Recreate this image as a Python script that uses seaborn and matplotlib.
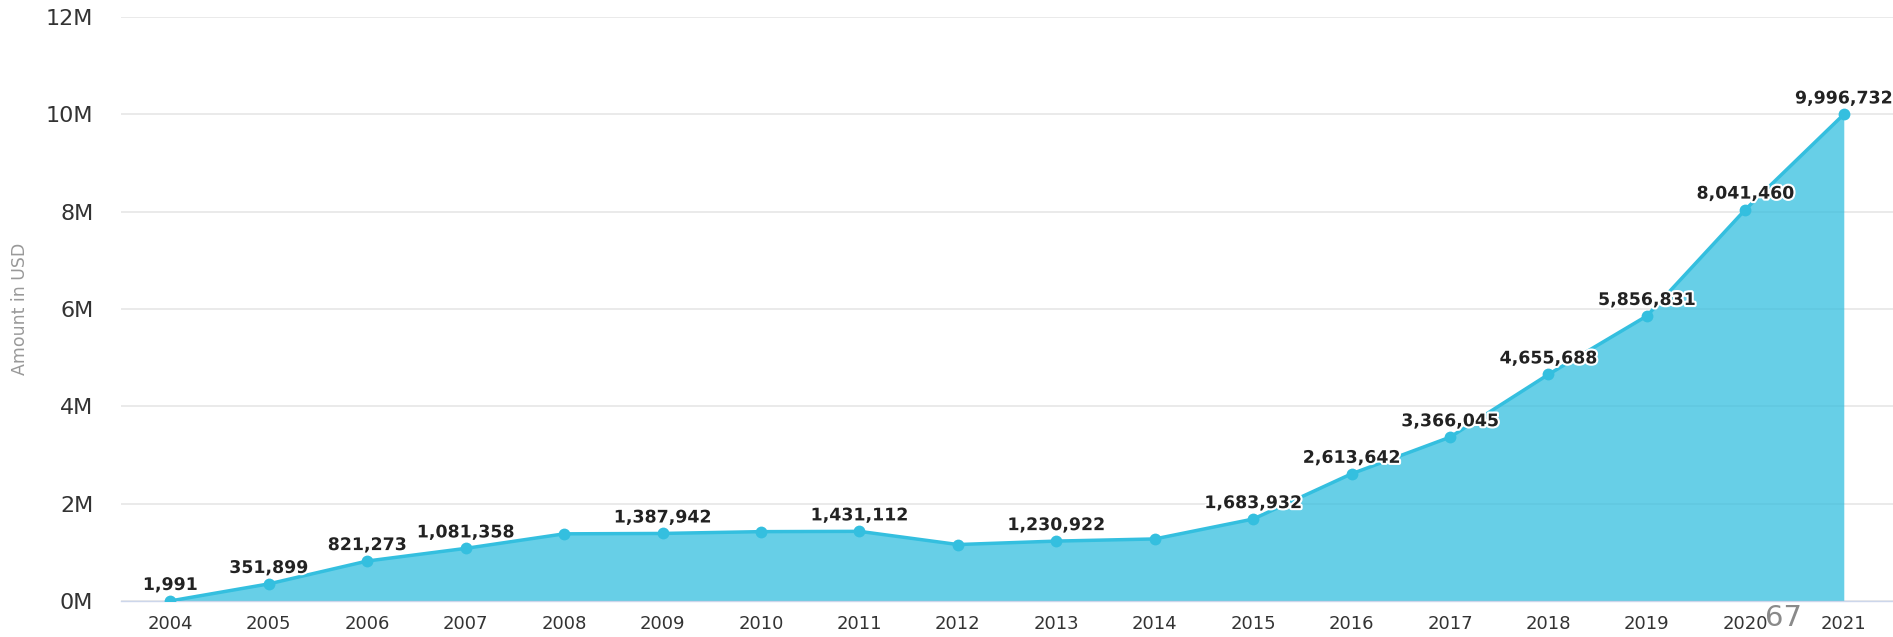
import numpy as np
import pandas as pd
import seaborn as sns
import matplotlib
matplotlib.use("Agg")
import matplotlib.pyplot as plt
import matplotlib.patheffects as pe
from matplotlib.ticker import FuncFormatter, MultipleLocator

# data
years = ['2004', '2005', '2006', '2007', '2008', '2009', '2010', '2011', '2012',
         '2013', '2014', '2015', '2016', '2017', '2018', '2019', '2020', '2021']
amounts = [1991, 351899, 821273, 1081358, 1380000, 1387942, 1425000, 1431112, 1160000,
           1230922, 1275000, 1683932, 2613642, 3366045, 4655688, 5856831, 8041460, 9996732]
# years whose value is printed above the point
labelled = ['2004', '2005', '2006', '2007', '2009', '2011', '2013', '2015', '2016',
            '2017', '2018', '2019', '2020', '2021']
y_ticks = [0, 2e6, 4e6, 6e6, 8e6, 10e6, 12e6]

sns.set_theme(style="white")
plt.rcParams['font.family'] = ['DejaVu Sans']

df = pd.DataFrame({'Year': years, 'Amount': amounts})
df['pos'] = np.arange(len(df))

blue = '#34bfdf'
fig = plt.figure(figsize=(18.93, 6.37), dpi=100)
ax = fig.add_axes([0.064, 0.0565, 0.936, 0.917])

# gridlines first so the area sits over them
for t in y_ticks:
    ax.axhline(t, color='#e6e6e6', lw=1.2, zorder=0)

ax.fill_between(df['pos'], 0, df['Amount'], color=blue, alpha=0.75, lw=0, zorder=1)
sns.lineplot(data=df, x='pos', y='Amount', color=blue, lw=2.5, marker='o',
             markersize=8.5, markeredgewidth=0, ax=ax, zorder=3)

for _, row in df.iterrows():
    if row['Year'] in labelled:
        ax.annotate(f"{row['Amount']:,}", (row['pos'], row['Amount']),
                    xytext=(0, 5), textcoords='offset points', ha='center', va='bottom',
                    fontsize=12.5, fontweight='semibold', color='#222222', zorder=4,
                    path_effects=[pe.withStroke(linewidth=3, foreground='white')])

ax.set_xlim(-0.5, len(years) - 0.5)
ax.set_ylim(0, 12e6)
ax.set_xticks(df['pos'])
ax.set_xticklabels(years)
ax.xaxis.set_minor_locator(MultipleLocator(1, offset=0.5))
ax.set_yticks(y_ticks)
ax.yaxis.set_major_formatter(FuncFormatter(lambda v, p: f"{int(v / 1e6)}M"))

ax.tick_params(axis='x', which='major', length=0, pad=10, labelsize=13, labelcolor='#333333')
ax.tick_params(axis='x', which='minor', length=12, width=1, color='#ccd6eb', direction='out')
ax.tick_params(axis='y', length=0, pad=20, labelsize=16, labelcolor='#333333')

for s in ['top', 'right', 'left']:
    ax.spines[s].set_visible(False)
ax.spines['bottom'].set_color('#ccd6eb')
ax.spines['bottom'].set_linewidth(1)

ax.set_xlabel('')
ax.set_ylabel('Amount in USD', fontsize=12.5, color='#999999')
ax.yaxis.set_label_coords(-0.052, 0.5)

fig.text(0.942, 0.03, '67', fontsize=21, color='#8a8a8a', ha='center', va='center')

fig.savefig('out.png', dpi=100)
